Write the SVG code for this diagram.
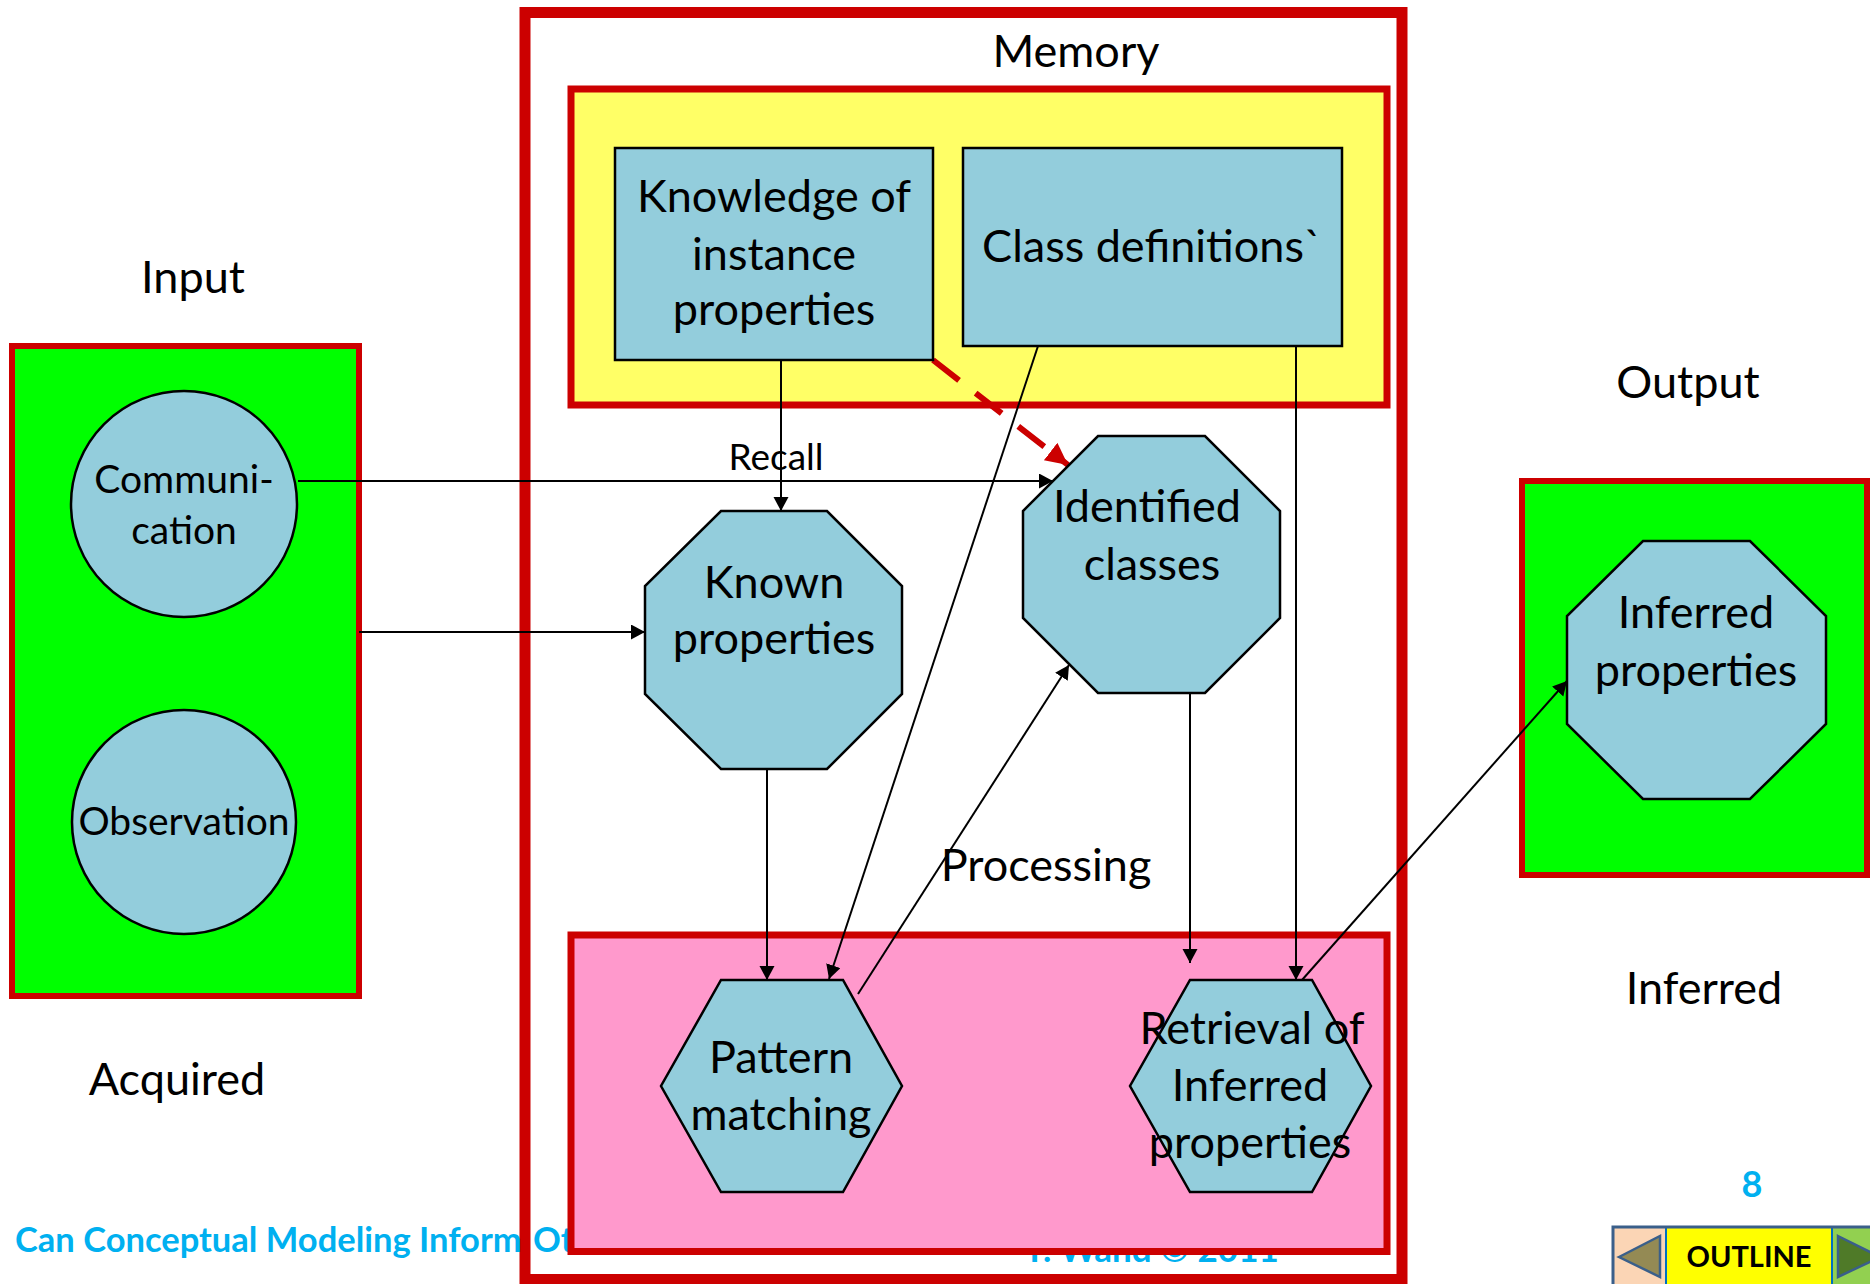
<svg xmlns="http://www.w3.org/2000/svg" width="1870" height="1284" viewBox="0 0 1870 1284">
  <style>
    .lbl { font-family: Lato, "Liberation Sans", sans-serif; font-size: 45px; fill: #000; text-anchor: middle; }
    .sm { font-size: 39px; }
    .rc { font-size: 37px; }
    .node { fill: #93CDDC; stroke: #000; stroke-width: 2.5; }
    .zone { stroke: #CC0000; }
    .foot { font-family: Lato, "Liberation Sans", sans-serif; font-weight: bold; fill: #00B0F0; }
    .conn { stroke: #000; stroke-width: 2; fill: none; }
  </style>
  <defs>
    <marker id="arr" markerUnits="userSpaceOnUse" markerWidth="16" markerHeight="16" refX="14" refY="7.5" orient="auto">
      <path d="M0,0 L14,7.5 L0,15 z" fill="#000"/>
    </marker>
    <marker id="arrRed" markerUnits="userSpaceOnUse" markerWidth="26" markerHeight="26" refX="22" refY="11" orient="auto">
      <path d="M0,0 L22,11 L0,22 z" fill="#CC0000"/>
    </marker>
  </defs>
  <rect width="1870" height="1284" fill="#fff"/>

  <!-- Memory container -->
  <g id="memory">
    <rect class="zone" x="525" y="12.5" width="877" height="1267" fill="#fff" stroke-width="11"/>
    <text class="lbl" x="1076" y="67">Memory</text>
  </g>

  <!-- slide footer -->
  <g id="footer">
    <text class="foot" x="15" y="1252" font-size="34.5">Can Conceptual Modeling Inform <tspan x="533">Ot</tspan></text>
    <text class="foot" x="1151" y="1262" font-size="35" text-anchor="middle">Y. Wand © 2011</text>
    <text class="foot" x="1752" y="1197" font-size="36" text-anchor="middle">8</text>
  </g>

  <!-- stored knowledge zone -->
  <g id="storage">
    <rect class="zone" x="571" y="89" width="816" height="316" fill="#FFFF66" stroke-width="7"/>
  </g>

  <!-- processing zone -->
  <g id="processing">
    <rect class="zone" x="571" y="935" width="816" height="316.5" fill="#FF99CC" stroke-width="7"/>
    <text class="lbl" x="1046" y="881">Processing</text>
  </g>

  <!-- input zone -->
  <g id="input">
    <rect class="zone" x="12" y="346" width="347" height="650" fill="#00FF00" stroke-width="6"/>
    <text class="lbl" x="193" y="293">Input</text>
    <text class="lbl" x="177" y="1095">Acquired</text>
  </g>

  <!-- output zone -->
  <g id="output">
    <rect class="zone" x="1522" y="481" width="345" height="394" fill="#00FF00" stroke-width="6"/>
    <text class="lbl" x="1688" y="398">Output</text>
    <text class="lbl" x="1704" y="1004">Inferred</text>
  </g>

  <!-- connectors -->
  <g id="connectors">
    <line class="conn" x1="781" y1="360" x2="781" y2="511" marker-end="url(#arr)"/>
    <text class="lbl rc" x="776" y="470">Recall</text>
    <line class="conn" x1="298" y1="481" x2="1053" y2="481" marker-end="url(#arr)"/>
    <line class="conn" x1="359" y1="632" x2="645" y2="632" marker-end="url(#arr)"/>
    <line class="conn" x1="1038" y1="346" x2="829" y2="979" marker-end="url(#arr)"/>
    <line class="conn" x1="767" y1="769" x2="767" y2="980" marker-end="url(#arr)"/>
    <line class="conn" x1="858" y1="994" x2="1069" y2="665" marker-end="url(#arr)"/>
    <line class="conn" x1="1190" y1="693" x2="1190" y2="963" marker-end="url(#arr)"/>
    <line class="conn" x1="1296" y1="346" x2="1296" y2="980" marker-end="url(#arr)"/>
    <line class="conn" x1="1302" y1="980" x2="1567" y2="681" marker-end="url(#arr)"/>
    <line x1="933" y1="360" x2="1068" y2="465" stroke="#CC0000" stroke-width="6" stroke-dasharray="33 21" marker-end="url(#arrRed)"/>
  </g>

  <!-- nodes -->
  <g id="knowledge">
    <rect class="node" x="615" y="148" width="318" height="212"/>
    <text class="lbl" x="774" y="212">Knowledge of</text>
    <text class="lbl" x="774" y="270">instance</text>
    <text class="lbl" x="774" y="325">properties</text>
  </g>
  <g id="class-definitions">
    <rect class="node" x="963" y="148" width="379" height="198"/>
    <text class="lbl" x="1152" y="262">Class definitions`</text>
  </g>
  <g id="communication">
    <circle class="node" cx="184" cy="504" r="113"/>
    <text class="lbl sm" x="184" y="493">Communi-</text>
    <text class="lbl sm" x="184" y="544">cation</text>
  </g>
  <g id="observation">
    <circle class="node" cx="184" cy="822" r="112"/>
    <text class="lbl sm" x="184" y="835">Observation</text>
  </g>
  <g id="known-properties">
    <polygon class="node" points="721,511 827,511 902,586 902,694 827,769 721,769 645,694 645,586"/>
    <text class="lbl" x="774" y="598">Known</text>
    <text class="lbl" x="774" y="654">properties</text>
  </g>
  <g id="identified-classes">
    <polygon class="node" points="1098,436 1205,436 1280,511 1280,618 1205,693 1098,693 1023,618 1023,511"/>
    <text class="lbl" x="1147" y="522">Identified</text>
    <text class="lbl" x="1152" y="580">classes</text>
  </g>
  <g id="pattern-matching">
    <polygon class="node" points="721,980 843,980 902,1086 843,1192 721,1192 661,1086"/>
    <text class="lbl" x="781" y="1073">Pattern</text>
    <text class="lbl" x="781" y="1130">matching</text>
  </g>
  <g id="retrieval">
    <polygon class="node" points="1190,980 1312,980 1371,1086 1312,1192 1190,1192 1130,1086"/>
    <text class="lbl" x="1252" y="1044">Retrieval of</text>
    <text class="lbl" x="1250" y="1101">Inferred</text>
    <text class="lbl" x="1250" y="1158">properties</text>
  </g>
  <g id="inferred-properties">
    <polygon class="node" points="1643,541 1750,541 1826,616 1826,724 1750,799 1643,799 1567,724 1567,616"/>
    <text class="lbl" x="1696" y="628">Inferred</text>
    <text class="lbl" x="1696" y="686">properties</text>
  </g>

  <!-- slide navigation button -->
  <g id="outline-button">
    <rect x="1613" y="1227" width="60" height="60" fill="#FBD5B5"/>
    <rect x="1832" y="1227" width="40" height="60" fill="#92D050"/>
    <rect x="1666" y="1227" width="166" height="60" fill="#FFFF00" stroke="#0070C0" stroke-width="2"/>
    <rect x="1613" y="1227" width="270" height="60" fill="none" stroke="#3A5F8A" stroke-width="3"/>
    <polygon points="1619,1257 1660,1236 1660,1277" fill="#948A54" stroke="#3A5F8A" stroke-width="2.5"/>
    <polygon points="1838,1236 1880,1257 1838,1277" fill="#4F7A28" stroke="#3A5F8A" stroke-width="2.5"/>
    <text x="1749" y="1267" font-family="Lato, 'Liberation Sans', sans-serif" font-weight="bold" font-size="29" text-anchor="middle" fill="#000">OUTLINE</text>
  </g>
</svg>
